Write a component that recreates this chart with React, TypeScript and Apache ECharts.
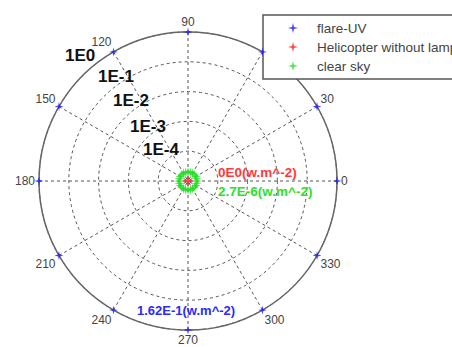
import React, { useEffect, useRef } from "react";
import * as echarts from "echarts";

const angleTicks = [0, 30, 60, 90, 120, 150, 180, 210, 240, 270, 300, 330];
const radialLabels = ["1E-4", "1E-3", "1E-2", "1E-1", "1E0"];

const flareAngles = [0, 30, 60, 90, 120, 150, 180, 210, 240, 270, 300, 330];
const flareRadius = [5, 5, 5, 5, 5, 5, 5, 5, 5, 5, 5, 5];

const heliAngles = [0];
const heliRadius = [0];

const skyAngles = [0, 15, 30, 45, 60, 75, 90, 105, 120, 135, 150, 165, 180, 195, 210, 225, 240, 255, 270, 285, 300, 315, 330, 345];
const skyRadius = [0.3, 0.3, 0.3, 0.3, 0.3, 0.3, 0.3, 0.3, 0.3, 0.3, 0.3, 0.3, 0.3, 0.3, 0.3, 0.3, 0.3, 0.3, 0.3, 0.3, 0.3, 0.3, 0.3, 0.3];

const valueTexts = ["0E0(w.m^-2)", "2.7E-6(w.m^-2)", "1.62E-1(w.m^-2)"];

const STAR = "path://M5 0 L6 4 L10 5 L6 6 L5 10 L4 6 L0 5 L4 4 Z";
const FONT = "Liberation Sans, Arial, sans-serif";

export default function App() {
  const ref = useRef<HTMLDivElement>(null);
  useEffect(() => {
    const chart = echarts.init(ref.current!, null, { renderer: "svg" });
    const pts = (r: number[], a: number[]) => r.map((v, i) => [v, a[i]]);
    const labelPos = [
      [143, 151],
      [130, 128],
      [113, 102],
      [98, 78],
      [65, 57],
    ];
    chart.setOption({
      animation: false,
      backgroundColor: "#fff",
      polar: { center: [188, 181], radius: 149 },
      angleAxis: {
        type: "value",
        min: 0,
        max: 360,
        interval: 30,
        startAngle: 0,
        clockwise: false,
        axisLine: { lineStyle: { color: "#666", width: 1.5 } },
        axisTick: { show: false },
        axisLabel: {
          margin: 4,
          color: "#444",
          fontSize: 12,
          fontFamily: FONT,
          formatter: (v: number) => (v === 360 ? "" : String(v)),
        },
        splitLine: { show: true, lineStyle: { color: "#555", type: [3, 3], width: 1 } },
      },
      radiusAxis: {
        type: "value",
        min: 0,
        max: 5,
        interval: 1,
        axisLine: { show: false },
        axisTick: { show: false },
        axisLabel: { show: false },
        splitLine: { show: true, lineStyle: { color: "#555", type: [3, 3], width: 1 } },
      },
      legend: {
        orient: "vertical",
        left: 263,
        top: 15,
        padding: [6, 10, 6, 25],
        itemGap: 5,
        itemWidth: 10,
        itemHeight: 10,
        backgroundColor: "#fff",
        borderColor: "#555",
        borderWidth: 1.5,
        borderRadius: 0,
        textStyle: { color: "#444", fontSize: 13.5, fontFamily: FONT, padding: [0, 0, 0, 14] },
        data: [
          { name: "flare-UV", icon: STAR },
          { name: "Helicopter without lamp", icon: STAR },
          { name: "clear sky", icon: STAR },
        ],
      },
      series: [
        {
          name: "flare-UV",
          type: "scatter",
          coordinateSystem: "polar",
          symbol: STAR,
          symbolSize: 9,
          itemStyle: { color: "#1a1aff" },
          data: pts(flareRadius, flareAngles),
          z: 5,
        },
        {
          name: "Helicopter without lamp",
          type: "scatter",
          coordinateSystem: "polar",
          symbol: STAR,
          symbolSize: 13,
          itemStyle: { color: "#ff1a1a" },
          data: pts(heliRadius, heliAngles),
          z: 6,
        },
        {
          name: "clear sky",
          type: "scatter",
          coordinateSystem: "polar",
          symbol: STAR,
          symbolSize: 10,
          itemStyle: { color: "#22e022" },
          data: pts(skyRadius, skyAngles),
          z: 5,
        },
      ],
      graphic: [
        ...radialLabels.map((t, i) => ({
          type: "text",
          left: labelPos[i][0],
          top: labelPos[i][1] - 10,
          z: 10,
          style: { text: t, fill: "#111", font: `bold 17px ${FONT}` },
        })),
        {
          type: "text",
          left: 218,
          top: 165,
          z: 10,
          style: { text: valueTexts[0], fill: "#ff3a3a", font: `bold 13.5px ${FONT}` },
        },
        {
          type: "text",
          left: 218,
          top: 184,
          z: 10,
          style: { text: valueTexts[1], fill: "#2ee02e", font: `bold 13.5px ${FONT}` },
        },
        {
          type: "text",
          left: 137,
          top: 304,
          z: 10,
          style: { text: valueTexts[2], fill: "#2a2aff", font: `bold 13px ${FONT}` },
        },
      ],
    });
    return () => chart.dispose();
  }, []);
  return (
    <div
      ref={ref}
      style={{ position: "fixed", left: 0, top: 0, width: 452, height: 347 }}
    />
  );
}
